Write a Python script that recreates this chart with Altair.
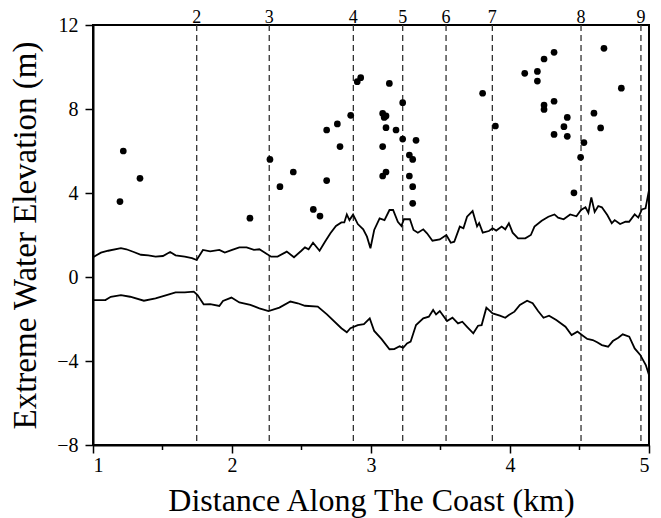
import altair as alt
import pandas as pd

# Scatter points (km, m)
pts_x = [1.194, 1.218, 1.338, 2.129, 2.273, 2.345, 2.441, 2.585, 2.633, 2.681, 2.681,
         2.758, 2.777, 2.854, 2.901, 2.926, 3.132, 3.084, 3.108, 3.095, 3.108,
         3.180, 3.084, 3.084, 3.108, 3.228, 3.228, 3.324, 3.276, 3.300,
         3.276, 3.300, 3.300, 3.803, 3.895, 4.106, 4.197, 4.197,
         4.245, 4.317, 4.245, 4.245, 4.317, 4.412, 4.388, 4.317, 4.412, 4.532,
         4.508, 4.460, 4.676, 4.801, 4.604, 4.652]
pts_y = [3.59, 6.0, 4.70, 2.80, 5.60, 4.30, 5.0, 3.22, 2.90, 4.59, 7.0,
         7.29, 6.21, 7.70, 9.30, 9.49, 9.22, 7.79, 7.67, 7.6, 7.11,
         7.0, 6.21, 4.81, 5.0, 8.30, 6.57, 6.51, 5.81, 5.60,
         4.81, 4.30, 3.51, 8.75, 7.19, 9.70, 9.79, 9.33,
         10.38, 10.70, 8.19, 7.98, 8.37, 7.60, 7.16, 6.79, 6.70, 6.40,
         5.70, 4.01, 10.89, 8.99, 7.80, 7.10]

# Upper envelope line
up_x = [1.0, 1.057, 1.109, 1.201, 1.240, 1.293, 1.345, 1.398, 1.450, 1.503, 1.555, 1.594,
        1.660, 1.712, 1.746, 1.791, 1.843, 1.909, 1.948, 2.001, 2.053, 2.105, 2.158, 2.197,
        2.237, 2.281, 2.328, 2.394, 2.446, 2.499, 2.525, 2.551, 2.583, 2.630, 2.669, 2.708,
        2.748, 2.787, 2.808, 2.826, 2.845, 2.871, 2.905, 2.944, 2.971, 2.996, 3.023, 3.062,
        3.097, 3.133, 3.159, 3.193, 3.219, 3.237, 3.280, 3.306, 3.337, 3.376, 3.403, 3.442,
        3.495, 3.542, 3.574, 3.599, 3.639, 3.665, 3.691, 3.731, 3.763, 3.778, 3.804, 3.848,
        3.875, 3.901, 3.940, 3.966, 3.992, 4.019, 4.058, 4.110, 4.150, 4.176, 4.228, 4.276,
        4.320, 4.346, 4.386, 4.433, 4.478, 4.511, 4.543, 4.564, 4.585, 4.609, 4.635, 4.661,
        4.700, 4.732, 4.753, 4.792, 4.831, 4.857, 4.897, 4.923, 4.949, 4.975, 5.0]
up_y = [0.94, 1.16, 1.25, 1.37, 1.32, 1.19, 1.06, 1.03, 0.97, 1.0, 1.19, 1.03,
        0.97, 0.90, 0.81, 1.29, 1.22, 1.29, 1.16, 1.29, 1.41, 1.41, 1.29, 1.32,
        1.16, 0.97, 0.97, 1.21, 0.94, 1.25, 1.41, 1.32, 1.63, 1.25, 1.68, 2.08,
        2.43, 2.60, 2.60, 2.98, 2.71, 2.97, 2.52, 2.27, 1.92, 1.37, 2.24, 2.79,
        2.71, 3.19, 3.19, 2.63, 2.43, 2.75, 2.75, 2.24, 2.11, 2.27, 2.08, 1.73,
        1.79, 2.0, 1.63, 1.68, 2.40, 2.32, 2.87, 3.14, 2.41, 2.57, 2.11, 2.19,
        2.32, 2.21, 2.40, 2.27, 2.56, 2.11, 1.84, 1.84, 2.0, 2.40, 2.68, 2.87,
        2.98, 2.83, 2.75, 2.98, 2.89, 3.19, 3.32, 3.06, 3.79, 3.10, 3.38, 3.32,
        2.95, 2.56, 2.71, 2.52, 2.63, 2.63, 2.98, 2.83, 3.22, 3.27, 4.14]

# Lower envelope line
lo_x = [1.0, 1.089, 1.128, 1.201, 1.267, 1.366, 1.450, 1.529, 1.594, 1.660, 1.725, 1.752,
        1.796, 1.843, 1.909, 1.935, 1.996, 2.053, 2.132, 2.197, 2.263, 2.341, 2.420, 2.473,
        2.525, 2.617, 2.683, 2.787, 2.826, 2.852, 2.905, 2.949, 2.991, 3.023, 3.075, 3.133,
        3.167, 3.206, 3.232, 3.259, 3.285, 3.324, 3.376, 3.416, 3.447, 3.468, 3.495, 3.547,
        3.586, 3.626, 3.657, 3.691, 3.736, 3.770, 3.796, 3.830, 3.875, 3.927, 3.966, 3.992,
        4.032, 4.071, 4.123, 4.163, 4.202, 4.241, 4.281, 4.333, 4.399, 4.443, 4.485, 4.517,
        4.556, 4.595, 4.627, 4.661, 4.706, 4.740, 4.779, 4.811, 4.858, 4.897, 4.937, 4.977, 5.0]
lo_y = [-1.10, -1.10, -0.94, -0.86, -0.94, -1.13, -1.02, -0.86, -0.73, -0.73, -0.70, -0.86,
        -1.30, -1.29, -1.38, -1.14, -0.98, -1.21, -1.33, -1.49, -1.62, -1.46, -1.17, -1.25,
        -1.37, -1.41, -1.78, -2.44, -2.63, -2.44, -2.29, -2.25, -1.97, -2.57, -2.95, -3.44,
        -3.43, -3.30, -3.37, -3.16, -3.08, -2.29, -1.97, -1.89, -1.57, -1.78, -1.62, -2.10,
        -1.94, -2.21, -2.13, -2.37, -2.68, -2.32, -2.29, -1.46, -1.73, -1.84, -1.94, -1.81,
        -1.65, -1.33, -1.13, -1.25, -1.62, -1.94, -1.84, -2.05, -2.37, -2.76, -2.60, -2.76,
        -2.95, -3.00, -3.11, -3.24, -3.32, -3.05, -2.89, -2.73, -2.84, -3.40, -3.71, -4.19, -4.67]

# Section boundaries and labels
sec_x = [1.746, 2.268, 2.873, 3.228, 3.540, 3.873, 4.511, 4.942]
sec_lab = ["2", "3", "4", "5", "6", "7", "8", "9"]
minor_x = [1.5, 2.5, 3.5, 4.5]

x_ticks = [1, 2, 3, 4, 5]
y_ticks = [-8, -4, 0, 4, 8, 12]

W, H = 556, 420
FONT = "Liberation Serif"

xs = alt.Scale(domain=[1, 5], nice=False, zero=False)
ys = alt.Scale(domain=[-8, 12], nice=False, zero=False)

x_axis = alt.Axis(values=x_ticks, format="d", title="Distance Along The Coast (km)",
                  ticks=True, tickSize=8, tickWidth=1.5, tickColor="black", domainWidth=2,
                  domainColor="black", labelFont=FONT, labelFontSize=20, labelColor="black",
                  titleFont=FONT, titleFontSize=32, titleFontWeight="normal",
                  titleColor="black", labelPadding=2, titlePadding=10, grid=False)
y_axis = alt.Axis(values=y_ticks, format="d", title="Extreme Water Elevation (m)",
                  ticks=True, tickSize=8, tickWidth=1.5, tickColor="black", domainWidth=2,
                  domainColor="black", labelFont=FONT, labelFontSize=20, labelColor="black",
                  titleFont=FONT, titleFontSize=33, titleFontWeight="normal",
                  titleColor="black", labelPadding=7, titlePadding=14, grid=False)

lines_df = pd.concat([
    pd.DataFrame({"x": up_x, "y": up_y, "s": "upper"}),
    pd.DataFrame({"x": lo_x, "y": lo_y, "s": "lower"}),
])
pts_df = pd.DataFrame({"x": pts_x, "y": pts_y})
sec_df = pd.DataFrame({"x": sec_x, "lab": sec_lab})
minor_df = pd.DataFrame({"x": minor_x})

X = alt.X("x:Q", scale=xs, axis=x_axis)
Y = alt.Y("y:Q", scale=ys, axis=y_axis)

lines = alt.Chart(lines_df).mark_line(color="black", strokeWidth=1.8).encode(
    x=X, y=Y, detail="s:N", order="x:Q")
points = alt.Chart(pts_df).mark_circle(size=45, color="black", opacity=1).encode(x=X, y=Y)
dashes = alt.Chart(sec_df).mark_rule(color="#333333", strokeWidth=1.3, strokeDash=[6, 4]).encode(x=X)
top_labels = alt.Chart(sec_df).mark_text(font=FONT, fontSize=18, color="black",
                                         baseline="alphabetic").encode(
    x=X, y=alt.value(-2), text="lab:N")
minor_ticks = alt.Chart(minor_df).mark_rule(color="black", strokeWidth=1.5).encode(
    x=X, y=alt.value(H), y2=alt.value(H + 5))

chart = alt.layer(dashes, lines, points, top_labels, minor_ticks).properties(
    width=W, height=H, autosize="none",
    padding={"left": 85, "top": 17, "right": 4, "bottom": 85},
).configure_view(stroke="black", strokeWidth=2)

chart.save("out.html", embed_options={"renderer": "svg", "actions": False})
